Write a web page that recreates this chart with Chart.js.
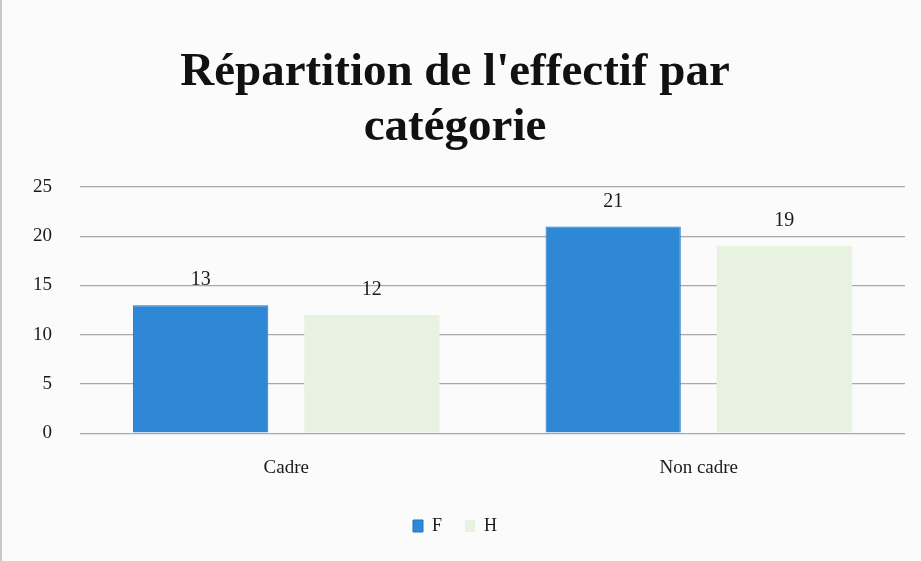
<!DOCTYPE html>
<html>
<head>
    <title>Répartition de l'effectif par catégorie</title>
    <script src="https://cdn.jsdelivr.net/npm/chart.js"></script>
    <style>
        html, body { margin: 0; padding: 0; background: #fbfbfc; }
        .chart-box {
            width: 921px;
            height: 561px;
            position: relative;
            box-sizing: border-box;
            border-left: 2px solid #c8c8c8;
        }
    </style>
</head>
<body>
    <div class="chart-box">
        <canvas id="chart"></canvas>
    </div>

    <script>
        // Data
        const categories = ['Cadre', 'Non cadre'];
        const femmes = [13, 21];
        const hommes = [12, 19];
        const seriesNames = ['F', 'H'];
        const yTicks = [0, 5, 10, 15, 20, 25];

        const serif = "'Liberation Serif', 'DejaVu Serif', serif";

        // Small plugin to write the value above each bar
        const valueLabels = {
            id: 'valueLabels',
            afterDatasetsDraw(chart) {
                const ctx = chart.ctx;
                ctx.save();
                ctx.font = '20px ' + serif;
                ctx.fillStyle = '#1a1a1a';
                ctx.textAlign = 'center';
                ctx.textBaseline = 'bottom';
                chart.data.datasets.forEach((ds, i) => {
                    const meta = chart.getDatasetMeta(i);
                    meta.data.forEach((bar, j) => {
                        ctx.fillText(ds.data[j], bar.x, bar.y - 15);
                    });
                });
                ctx.restore();
            }
        };

        new Chart(document.getElementById('chart'), {
            type: 'bar',
            data: {
                labels: categories,
                datasets: [
                    {
                        label: seriesNames[0],
                        data: femmes,
                        backgroundColor: '#2f88d6',
                        borderColor: '#1f74c4',
                        borderWidth: 1,
                        categoryPercentage: 0.83,
                        barPercentage: 0.79
                    },
                    {
                        label: seriesNames[1],
                        data: hommes,
                        backgroundColor: '#e7f2e1',
                        borderWidth: 0,
                        categoryPercentage: 0.83,
                        barPercentage: 0.79
                    }
                ]
            },
            options: {
                responsive: true,
                maintainAspectRatio: false,
                animation: false,
                layout: {
                    padding: { left: 3, right: 16, top: 22, bottom: 16 }
                },
                plugins: {
                    title: {
                        display: true,
                        text: ["Répartition de l'effectif par", 'catégorie'],
                        color: '#111',
                        font: { family: serif, size: 47, weight: 'bold', lineHeight: 1.17 },
                        padding: { top: 23, bottom: 32 }
                    },
                    legend: {
                        position: 'bottom',
                        labels: {
                            color: '#1a1a1a',
                            font: { family: serif, size: 18 },
                            boxWidth: 10,
                            boxHeight: 12,
                            padding: 23
                        }
                    },
                    tooltip: { enabled: false }
                },
                scales: {
                    x: {
                        grid: { display: false },
                        border: { display: false },
                        ticks: {
                            color: '#1a1a1a',
                            font: { family: serif, size: 19 },
                            padding: 15
                        }
                    },
                    y: {
                        min: 0,
                        max: 25,
                        afterBuildTicks(axis) {
                            axis.ticks = yTicks.map(v => ({ value: v }));
                        },
                        grid: {
                            color: '#a9a9a9',
                            lineWidth: 1.2,
                            drawTicks: false
                        },
                        border: { display: false },
                        ticks: {
                            color: '#1a1a1a',
                            font: { family: serif, size: 19 },
                            padding: 28
                        }
                    }
                }
            },
            plugins: [valueLabels]
        });
    </script>
</body>
</html>
